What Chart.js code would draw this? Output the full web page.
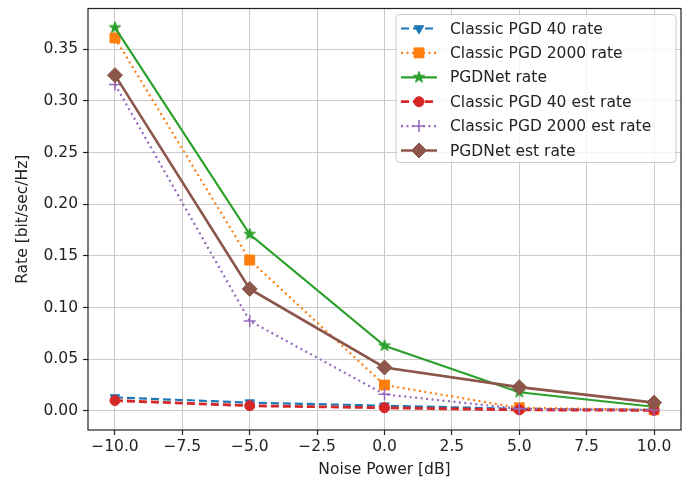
<!DOCTYPE html>
<html>
<head>
<meta charset="utf-8">
<script src="https://cdn.jsdelivr.net/npm/chart.js@4.4.0/dist/chart.umd.min.js"></script>
<style>
  html, body { margin: 0; padding: 0; background: #fff; }
  #wrap { width: 697px; height: 487px; }
</style>
</head>
<body>
<div id="wrap"><canvas id="rateChart" width="697" height="487"></canvas></div>
<script>
// noise levels (dB) and achievable rate per method
const noiseDb = [-10, -5, 0, 5, 10];
const pgd40Rate = [0.013, 0.008, 0.005, 0.002, 0.001];
const pgd2000Rate = [0.361, 0.146, 0.025, 0.003, 0.001];
const pgdNetRate = [0.371, 0.171, 0.063, 0.018, 0.004];
const pgd40Est = [0.010, 0.005, 0.003, 0.001, 0.0005];
const pgd2000Est = [0.316, 0.087, 0.016, 0.002, 0.001];
const pgdNetEst = [0.325, 0.118, 0.042, 0.023, 0.008];

const xTicks = [-10, -7.5, -5, -2.5, 0, 2.5, 5, 7.5, 10];
const yTicks = [0, 0.05, 0.1, 0.15, 0.2, 0.25, 0.3, 0.35];

const FONT = "'DejaVu Sans', sans-serif";
const FONT_SIZE = 15.5;

// filled five point star, used as an image point style
function starMarker(color, r) {
    const c = document.createElement("canvas");
    const size = Math.ceil(r * 2 + 2);
    c.width = size;
    c.height = size;
    const g = c.getContext("2d");
    g.fillStyle = color;
    g.strokeStyle = color;
    g.lineWidth = 1;
    g.beginPath();
    for (let i = 0; i < 10; i++) {
        const rad = i % 2 ? r * 0.4 : r;
        const a = -Math.PI / 2 + i * Math.PI / 5;
        const px = size / 2 + rad * Math.cos(a);
        const py = size / 2 + rad * Math.sin(a);
        if (i) g.lineTo(px, py); else g.moveTo(px, py);
    }
    g.closePath();
    g.fill();
    g.stroke();
    return c;
}

function series(label, values, color, opts) {
    return Object.assign({
        label,
        data: noiseDb.map((x, i) => ({ x, y: values[i] })),
        borderColor: color,
        backgroundColor: color,
        pointBackgroundColor: color,
        pointBorderColor: color,
        pointBorderWidth: 1,
        borderWidth: 2.2,
        tension: 0,
        fill: false
    }, opts);
}

const datasets = [
    series("Classic PGD 40 rate", pgd40Rate, "#1f77b4",
        { borderDash: [8, 4], pointStyle: "triangle", rotation: 180, pointRadius: 5.5, order: 6 }),
    series("Classic PGD 2000 rate", pgd2000Rate, "#ff7f0e",
        { borderDash: [2, 3.5], pointStyle: "rect", pointRadius: 7, order: 5 }),
    series("PGDNet rate", pgdNetRate, "#2ca02c",
        { pointStyle: starMarker("#2ca02c", 6), order: 4 }),
    series("Classic PGD 40 est rate", pgd40Est, "#d62728",
        { borderDash: [8, 4], borderWidth: 2.8, pointStyle: "circle", pointRadius: 5, order: 3 }),
    series("Classic PGD 2000 est rate", pgd2000Est, "#9467bd",
        { borderDash: [2, 3.5], pointStyle: "cross", pointRadius: 6, pointBorderWidth: 1.5, order: 2 }),
    series("PGDNet est rate", pgdNetEst, "#8c564b",
        { borderWidth: 2.6, pointStyle: "rectRot", pointRadius: 7.5, order: 1 })
];

// black frame round the plot area
const frame = {
    id: "frame",
    afterDatasetsDraw(chart) {
        const { ctx, chartArea: a } = chart;
        ctx.save();
        ctx.strokeStyle = "#222";
        ctx.lineWidth = 1.2;
        ctx.strokeRect(a.left, a.top, a.right - a.left, a.bottom - a.top);
        ctx.restore();
    }
};

// legend in the upper right corner: line sample with marker, then the label
const legendBox = {
    id: "legendBox",
    afterDraw(chart) {
        const { ctx, chartArea: a } = chart;
        const w = 280, h = 148;
        const left = a.right - 5 - w, top = a.top + 6;
        const rowH = 24.4;
        ctx.save();
        ctx.beginPath();
        ctx.roundRect(left, top, w, h, 4);
        ctx.fillStyle = "rgba(255,255,255,0.8)";
        ctx.fill();
        ctx.strokeStyle = "#cccccc";
        ctx.lineWidth = 1;
        ctx.stroke();

        ctx.font = FONT_SIZE + "px " + FONT;
        ctx.textBaseline = "middle";
        chart.data.datasets.forEach((ds, i) => {
            const y = top + 14 + i * rowH;
            const x1 = left + 5, x2 = left + 41, xm = (x1 + x2) / 2;
            ctx.strokeStyle = ds.borderColor;
            ctx.lineWidth = ds.borderWidth;
            ctx.setLineDash(ds.borderDash || []);
            ctx.beginPath();
            ctx.moveTo(x1, y);
            ctx.lineTo(x2, y);
            ctx.stroke();
            ctx.setLineDash([]);
            ctx.fillStyle = ds.pointBackgroundColor;
            ctx.strokeStyle = ds.pointBorderColor;
            ctx.lineWidth = ds.pointBorderWidth;
            Chart.helpers.drawPoint(ctx, {
                pointStyle: ds.pointStyle,
                rotation: ds.rotation || 0,
                radius: ds.pointRadius || 3,
                borderWidth: ds.pointBorderWidth
            }, xm, y);
            ctx.fillStyle = "#222";
            ctx.fillText(ds.label, left + 54, y + 1);
        });
        ctx.restore();
    }
};

function zeroPadding(scale) {
    scale.paddingTop = 0;
    scale.paddingBottom = 0;
    scale.paddingLeft = 0;
    scale.paddingRight = 0;
}

const gridOpts = {
    color: "#cbcbcb",
    lineWidth: 1,
    tickLength: 5,
    tickColor: "#222",
    tickWidth: 1.2
};

new Chart(document.getElementById("rateChart"), {
    type: "line",
    data: { datasets },
    options: {
        responsive: false,
        animation: false,
        events: [],
        layout: { padding: { top: 4, right: 16, left: 0, bottom: 0 } },
        plugins: {
            legend: { display: false },
            tooltip: { enabled: false }
        },
        scales: {
            x: {
                type: "linear",
                min: -11,
                max: 11,
                afterBuildTicks: s => { s.ticks = xTicks.map(v => ({ value: v })); },
                afterFit: s => { s.height = 57; zeroPadding(s); },
                grid: gridOpts,
                border: { display: false },
                ticks: {
                    color: "#222",
                    font: { family: FONT, size: FONT_SIZE },
                    padding: 3,
                    maxRotation: 0,
                    autoSkip: false,
                    callback: v => (v < 0 ? "\u2212" : "") + Math.abs(v).toFixed(1)
                },
                title: {
                    display: true,
                    text: "Noise Power [dB]",
                    color: "#222",
                    font: { family: FONT, size: FONT_SIZE },
                    padding: { top: 0, bottom: 8 }
                }
            },
            y: {
                type: "linear",
                min: -0.0185,
                max: 0.3895,
                afterBuildTicks: s => { s.ticks = yTicks.map(v => ({ value: v })); },
                afterFit: s => { s.width = 88; zeroPadding(s); },
                grid: gridOpts,
                border: { display: false },
                ticks: {
                    color: "#222",
                    font: { family: FONT, size: FONT_SIZE },
                    padding: 5,
                    autoSkip: false,
                    callback: v => v.toFixed(2)
                },
                title: {
                    display: true,
                    text: "Rate [bit/sec/Hz]",
                    color: "#222",
                    font: { family: FONT, size: FONT_SIZE },
                    padding: { top: 14, bottom: 0 }
                }
            }
        }
    },
    plugins: [frame, legendBox]
});
</script>
</body>
</html>
